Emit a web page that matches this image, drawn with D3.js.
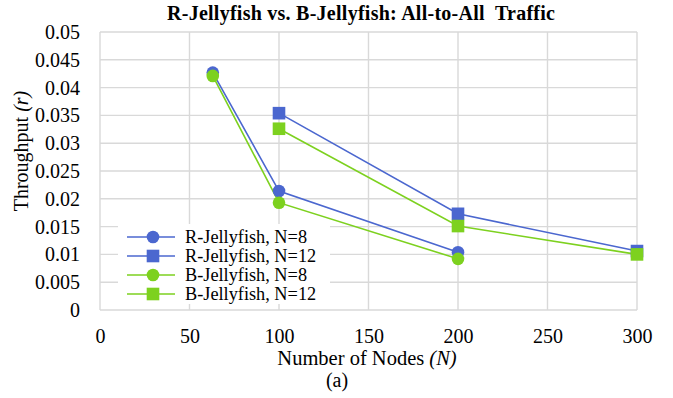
<!DOCTYPE html>
<html><head><meta charset="utf-8">
<script src="https://cdn.jsdelivr.net/npm/d3@7"></script>
<style>
body{margin:0;background:#fff;}
svg text{font-family:"Liberation Serif",Tinos,"Times New Roman",Times,"DejaVu Serif",serif !important;fill:#000;}
</style></head>
<body><svg id="c" width="673" height="398"></svg>
<script>
const xTicks = [0, 50, 100, 150, 200, 250, 300];
const yTicks = [0, 0.005, 0.01, 0.015, 0.02, 0.025, 0.03, 0.035, 0.04, 0.045, 0.05];
const seriesNames = ["R-Jellyfish, N=8", "R-Jellyfish, N=12", "B-Jellyfish, N=8", "B-Jellyfish, N=12"];
const r8x = [63, 100, 200];
const r8y = [0.0427, 0.0214, 0.0104];
const r12x = [100, 200, 300];
const r12y = [0.0354, 0.0173, 0.0106];
const b8x = [63, 100, 200];
const b8y = [0.0421, 0.0193, 0.0092];
const b12x = [100, 200, 300];
const b12y = [0.0326, 0.0151, 0.0100];

const blue = "#4B67CF", green = "#7DD11F";
const series = [
  {name: seriesNames[0], xs: r8x, ys: r8y, color: blue, shape: "circle"},
  {name: seriesNames[1], xs: r12x, ys: r12y, color: blue, shape: "square"},
  {name: seriesNames[2], xs: b8x, ys: b8y, color: green, shape: "circle"},
  {name: seriesNames[3], xs: b12x, ys: b12y, color: green, shape: "square"}
];

const svg = d3.select("#c");
const L = 100, R = 637, T = 32, B = 310;
const x = d3.scaleLinear().domain([0, 300]).range([L, R]);
const y = d3.scaleLinear().domain([0, 0.05]).range([B, T]);

const grid = svg.append("g");
grid.selectAll("line.h").data(yTicks).join("line")
  .attr("x1", L).attr("x2", R).attr("y1", d => y(d)).attr("y2", d => y(d))
  .attr("stroke", "#d9d9d9").attr("stroke-width", 1.4);
grid.selectAll("line.v").data(xTicks).join("line")
  .attr("y1", T).attr("y2", B).attr("x1", d => x(d)).attr("x2", d => x(d))
  .attr("stroke", "#d9d9d9").attr("stroke-width", 1.4);

const xAxis = svg.append("g").attr("transform", `translate(0,${B})`)
  .call(d3.axisBottom(x).tickValues(xTicks).tickSize(0).tickPadding(19).tickFormat(d3.format("d")));
xAxis.attr("font-family", null);
xAxis.select(".domain").remove();
xAxis.selectAll("text").attr("font-size", 20).attr("fill", "#000");

const yAxis = svg.append("g").attr("transform", `translate(${L},0)`)
  .call(d3.axisLeft(y).tickValues(yTicks).tickSize(0).tickPadding(20).tickFormat(d => d === 0 ? "0" : String(+d.toFixed(3))));
yAxis.attr("font-family", null);
yAxis.select(".domain").remove();
yAxis.selectAll("text").attr("font-size", 20).attr("fill", "#000");

const line = d3.line().x(d => x(d[0])).y(d => y(d[1]));
const plot = svg.append("g");
series.forEach(s => {
  const pts = s.xs.map((v, i) => [v, s.ys[i]]);
  plot.append("path").attr("d", line(pts)).attr("fill", "none")
    .attr("stroke", s.color).attr("stroke-width", 1.6);
});
function marker(g, shape, cx, cy, color) {
  if (shape === "circle") g.append("circle").attr("cx", cx).attr("cy", cy).attr("r", 6.3).attr("fill", color);
  else g.append("rect").attr("x", cx - 6.3).attr("y", cy - 6.3).attr("width", 12.6).attr("height", 12.6).attr("fill", color);
}
series.forEach(s => {
  s.xs.forEach((v, i) => marker(plot, s.shape, x(v), y(s.ys[i]), s.color));
});

const leg = svg.append("g");
leg.append("rect").attr("x", 118).attr("y", 224).attr("width", 212).attr("height", 80).attr("fill", "#fff");
const rowY = [237, 256, 275, 294];
series.forEach((s, i) => {
  leg.append("line").attr("x1", 127).attr("x2", 175).attr("y1", rowY[i]).attr("y2", rowY[i])
    .attr("stroke", s.color).attr("stroke-width", 1.6);
  marker(leg, s.shape, 153, rowY[i], s.color);
  leg.append("text").attr("x", 185).attr("y", rowY[i]).attr("dy", "0.35em")
    .attr("font-size", 18.3).text(s.name);
});

svg.append("text").attr("x", 361).attr("y", 19.5).attr("text-anchor", "middle")
  .attr("font-size", 20).attr("font-weight", "bold")
  .attr("textLength", 388).attr("lengthAdjust", "spacing")
  .text("R-Jellyfish vs. B-Jellyfish: All-to-All\u00a0 Traffic");
const xt = svg.append("text").attr("x", 367).attr("y", 365).attr("text-anchor", "middle").attr("font-size", 20.5);
xt.append("tspan").text("Number of Nodes ");
xt.append("tspan").attr("font-style", "italic").text("(N)");
svg.append("text").attr("x", 337).attr("y", 387).attr("text-anchor", "middle").attr("font-size", 20).text("(a)");
const yt = svg.append("text").attr("transform", "translate(28,151) rotate(-90)").attr("text-anchor", "middle").attr("font-size", 20);
yt.append("tspan").text("Throughput ");
yt.append("tspan").attr("font-style", "italic").text("(r)");
</script></body></html>
